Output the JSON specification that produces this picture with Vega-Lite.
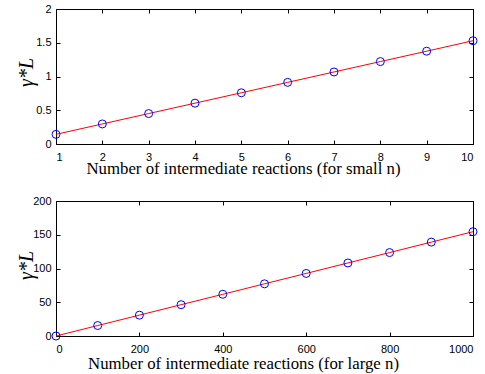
{
  "$schema": "https://vega.github.io/schema/vega-lite/v6.json",
  "padding": {"left": 15, "top": 2, "right": 5, "bottom": 5},
  "spacing": 57,
  "bounds": "flush",
  "background": "white",
  "config": {
    "view": {"stroke": "black", "strokeWidth": 1},
    "axis": {
      "domain": false,
      "grid": false,
      "tickSize": -4,
      "tickColor": "black",
      "labelFont": "Liberation Sans",
      "labelFontSize": 11,
      "labelColor": "black",
      "titleFont": "Liberation Serif",
      "titleFontSize": 16.8,
      "titleFontWeight": "normal",
      "titleColor": "black"
    },
    "axisX": {"labelPadding": 11},
    "axisY": {"labelPadding": 9}
  },
  "datasets": {
    "small": [
      {"n": 1, "g": 0.143}, {"n": 2, "g": 0.297}, {"n": 3, "g": 0.451}, {"n": 4, "g": 0.605},
      {"n": 5, "g": 0.759}, {"n": 6, "g": 0.913}, {"n": 7, "g": 1.067}, {"n": 8, "g": 1.221},
      {"n": 9, "g": 1.375}, {"n": 10, "g": 1.53}
    ],
    "large": [
      {"n": 0, "g": 0}, {"n": 100, "g": 15.5}, {"n": 200, "g": 30.9}, {"n": 300, "g": 46.4},
      {"n": 400, "g": 61.8}, {"n": 500, "g": 77.3}, {"n": 600, "g": 92.7}, {"n": 700, "g": 108.2},
      {"n": 800, "g": 123.6}, {"n": 900, "g": 139.1}, {"n": 1000, "g": 154.5}
    ]
  },
  "vconcat": [
    {
      "width": 417,
      "height": 135,
      "data": {"name": "small"},
      "resolve": {"axis": {"x": "independent", "y": "independent"}},
      "layer": [
        {
          "mark": {"type": "line", "color": "#ff0000", "strokeWidth": 1},
          "encoding": {
            "x": {"field": "n", "type": "quantitative", "scale": {"domain": [1, 10], "nice": false, "zero": false},
                  "axis": {"orient": "bottom", "values": [1,2,3,4,5,6,7,8,9,10], "title": "Number of intermediate reactions (for small n)",
                           "titleX": 187, "titleAlign": "center", "titleY": 29, "titleBaseline": "alphabetic"}},
            "y": {"field": "g", "type": "quantitative", "scale": {"domain": [0, 2], "nice": false},
                  "axis": {"orient": "left", "values": [0, 0.5, 1, 1.5, 2], "format": "~g", "title": "γ*L", "titleFontStyle": "italic", "titleFontSize": 20,
                           "titleX": -30, "titleY": 63, "titleAngle": -90, "titleAlign": "center", "titleBaseline": "middle"}}
          }
        },
        {
          "mark": {"type": "point", "shape": "circle", "filled": false, "color": "#0000ff", "size": 64, "strokeWidth": 1, "opacity": 1},
          "encoding": {
            "x": {"field": "n", "type": "quantitative",
                  "axis": {"orient": "top", "values": [1,2,3,4,5,6,7,8,9,10], "labels": false, "title": null}},
            "y": {"field": "g", "type": "quantitative",
                  "axis": {"orient": "right", "values": [0, 0.5, 1, 1.5, 2], "labels": false, "title": null}}
          }
        }
      ]
    },
    {
      "width": 417,
      "height": 135,
      "data": {"name": "large"},
      "resolve": {"axis": {"x": "independent", "y": "independent"}},
      "layer": [
        {
          "mark": {"type": "line", "color": "#ff0000", "strokeWidth": 1},
          "encoding": {
            "x": {"field": "n", "type": "quantitative", "scale": {"domain": [0, 1000], "nice": false},
                  "axis": {"orient": "bottom", "values": [0, 200, 400, 600, 800, 1000], "format": "d", "title": "Number of intermediate reactions (for large n)",
                           "titleX": 187, "titleAlign": "center", "titleY": 32, "titleBaseline": "alphabetic"}},
            "y": {"field": "g", "type": "quantitative", "scale": {"domain": [0, 200], "nice": false},
                  "axis": {"orient": "left", "values": [0, 50, 100, 150, 200], "title": "γ*L", "titleFontStyle": "italic", "titleFontSize": 20,
                           "titleX": -30, "titleY": 64, "titleAngle": -90, "titleAlign": "center", "titleBaseline": "middle"}}
          }
        },
        {
          "mark": {"type": "point", "shape": "circle", "filled": false, "color": "#0000ff", "size": 64, "strokeWidth": 1, "opacity": 1},
          "encoding": {
            "x": {"field": "n", "type": "quantitative",
                  "axis": {"orient": "top", "values": [0, 200, 400, 600, 800, 1000], "labels": false, "title": null}},
            "y": {"field": "g", "type": "quantitative",
                  "axis": {"orient": "right", "values": [0, 50, 100, 150, 200], "labels": false, "title": null}}
          }
        }
      ]
    }
  ]
}
